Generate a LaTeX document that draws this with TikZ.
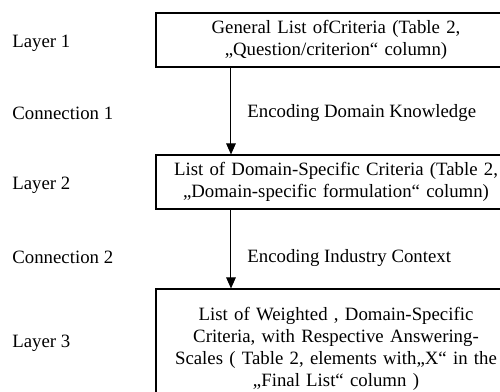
\documentclass[tikz,border=0pt]{standalone}
\usepackage{fontspec}
\setmainfont{Liberation Serif}
\usetikzlibrary{arrows.meta}

\begin{document}
\fontsize{9.4}{11}\selectfont
\begin{tikzpicture}[x=0.5pt,y=-0.5pt,
        layerbox/.style={draw, line width=0.6pt, minimum width=180pt, text width=172pt, align=center, inner sep=0pt},
        sidelabel/.style={anchor=west, inner sep=0pt},
        flowarrow/.style={-{Triangle[width=4.8pt,length=5.5pt]}, line width=0.5pt}]

	\path[use as bounding box, clip] (0,0) rectangle (500,392);

	% the three layers
	\node[layerbox, minimum height=27pt] (l1) at (336,40) {General List ofCriteria (Table 2,\\ „Question/criterion“ column)};
	\node[layerbox, minimum height=27pt] (l2) at (336,182) {List of Domain-Specific Criteria (Table 2,\\ „Domain-specific formulation“ column)};
	\node[layerbox, minimum height=60pt] (l3) at (336,349) {List of Weighted , Domain-Specific\\ Criteria, with Respective Answering-\\ Scales ( Table 2, elements with„X“ in the\\ „Final List“ column )};

	% left column
	\node[sidelabel] (t1) at (12,43) {Layer 1};
	\node[sidelabel] (c1) at (12,113) {Connection 1};
	\node[sidelabel] (t2) at (12,185) {Layer 2};
	\node[sidelabel] (c2) at (12,257) {Connection 2};
	\node[sidelabel] (t3) at (12,343) {Layer 3};

	% connections
	\coordinate (ax) at (231,0);
	\draw[flowarrow] (l1.south -| ax) -- (l2.north -| ax);
	\draw[flowarrow] (l2.south -| ax) -- (l3.north -| ax);
	\node[sidelabel] (e1) at (247,113) {Encoding Domain Knowledge};
	\node[sidelabel] (e2) at (247,258) {Encoding Industry Context};

\end{tikzpicture}
\end{document}
